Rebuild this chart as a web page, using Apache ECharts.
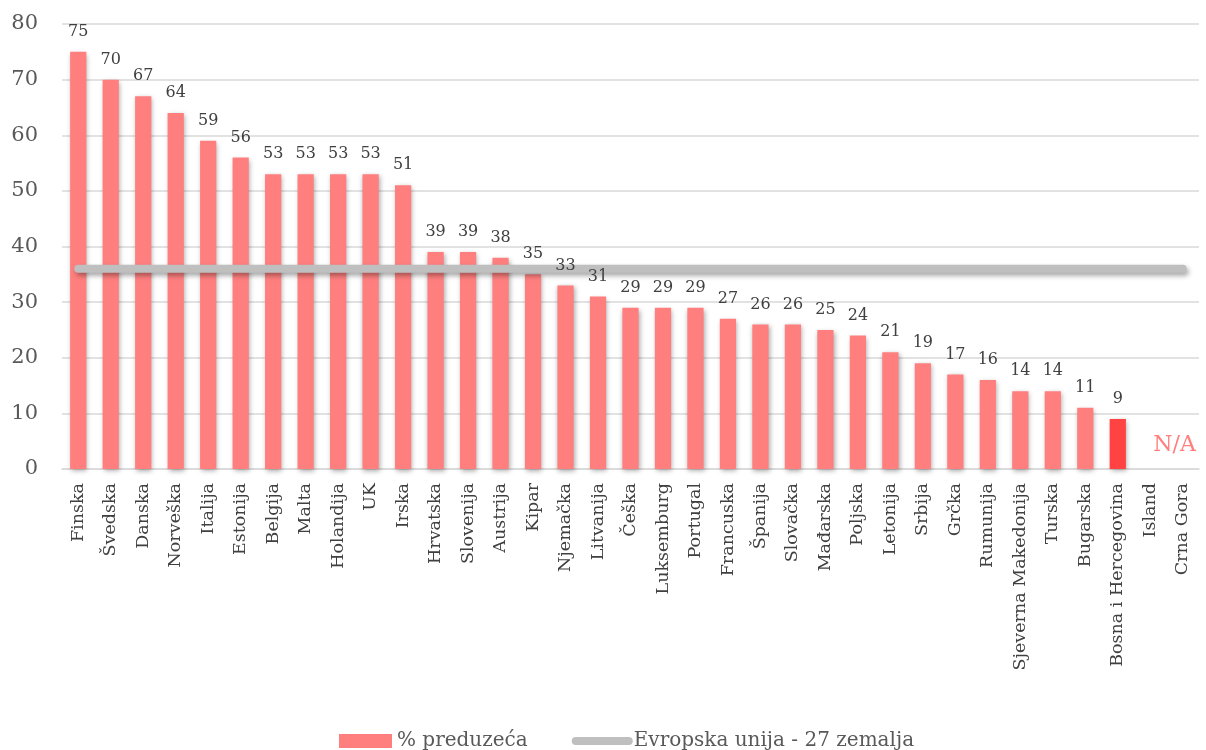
<!DOCTYPE html>
<html>
<head>
<meta charset="utf-8">
<script src="https://cdn.jsdelivr.net/npm/echarts@6/dist/echarts.min.js"></script>
<style>
  html, body { margin: 0; padding: 0; background: #fff; }
  #chart { width: 1206px; height: 750px; }
</style>
</head>
<body>
<div id="chart"></div>
<script>
// Countries (x axis)
const countries = ['Finska', 'Švedska', 'Danska', 'Norveška', 'Italija', 'Estonija', 'Belgija', 'Malta',
  'Holandija', 'UK', 'Irska', 'Hrvatska', 'Slovenija', 'Austrija', 'Kipar', 'Njemačka', 'Litvanija',
  'Češka', 'Luksemburg', 'Portugal', 'Francuska', 'Španija', 'Slovačka', 'Mađarska', 'Poljska',
  'Letonija', 'Srbija', 'Grčka', 'Rumunija', 'Sjeverna Makedonija', 'Turska', 'Bugarska',
  'Bosna i Hercegovina', 'Island', 'Crna Gora'];
// % of enterprises (null = no data)
const shares = [75, 70, 67, 64, 59, 56, 53, 53, 53, 53, 51, 39, 39, 38, 35, 33, 31, 29, 29, 29, 27,
  26, 26, 25, 24, 21, 19, 17, 16, 14, 14, 11, 9, null, null];
// EU-27 average
const euAverage = 36;
const highlighted = 'Bosna i Hercegovina';
const yTicks = [0, 10, 20, 30, 40, 50, 60, 70, 80];

const FONT = '"DejaVu Serif", serif';
const chart = echarts.init(document.getElementById('chart'));

const barData = shares.map((v, i) => ({
  value: v,
  itemStyle: { color: countries[i] === highlighted ? '#FF4343' : '#FF7F7F' }
}));

chart.setOption({
  animation: false,
  textStyle: { fontFamily: FONT },
  grid: { left: 62, right: 7, top: 24, bottom: 281, containLabel: false },
  legend: {
    top: 726,
    left: 334,
    itemGap: 44,
    itemWidth: 53,
    itemHeight: 14,
    textStyle: { fontFamily: FONT, fontSize: 20, color: '#595959' },
    data: [
      { name: '% preduzeća', icon: 'rect' },
      {
        name: 'Evropska unija - 27 zemalja',
        itemStyle: { color: 'rgba(0,0,0,0)', borderWidth: 0, opacity: 0 },
        lineStyle: { width: 8, cap: 'round', color: '#BFBFBF', shadowBlur: 0, shadowOffsetX: 0, shadowOffsetY: 0 }
      }
    ]
  },
  xAxis: {
    type: 'category',
    data: countries,
    axisTick: { show: false },
    axisLine: { show: true, lineStyle: { color: '#d9d9d9', width: 1.5 } },
    axisLabel: {
      rotate: 90,
      interval: 0,
      margin: 14,
      fontSize: 17.5,
      fontFamily: FONT,
      color: '#404040'
    }
  },
  yAxis: {
    type: 'value',
    min: 0,
    max: 80,
    interval: 10,
    axisLine: { show: false },
    axisTick: { show: false },
    splitLine: { lineStyle: { color: '#d9d9d9', width: 1.5 } },
    axisLabel: {
      fontSize: 21,
      fontFamily: FONT,
      color: '#595959',
      margin: 24,
      formatter: v => yTicks.includes(v) ? String(v) : ''
    }
  },
  series: [
    {
      name: '% preduzeća',
      type: 'bar',
      data: barData,
      barWidth: '50%',
      itemStyle: {
        color: '#FF7F7F',
        shadowBlur: 5,
        shadowOffsetX: 1,
        shadowOffsetY: 2,
        shadowColor: 'rgba(0,0,0,0.35)'
      },
      z: 2
    },
    {
      name: 'Evropska unija - 27 zemalja',
      type: 'line',
      data: countries.map(() => euAverage),
      symbol: 'none',
      lineStyle: {
        color: '#BFBFBF',
        width: 8,
        cap: 'round',
        shadowBlur: 5,
        shadowOffsetX: 2,
        shadowOffsetY: 3,
        shadowColor: 'rgba(0,0,0,0.35)'
      },
      itemStyle: { color: '#BFBFBF' },
      z: 3
    },
    {
      // value labels drawn above the average line
      name: 'labels',
      type: 'bar',
      data: shares,
      barWidth: '50%',
      barGap: '-100%',
      silent: true,
      itemStyle: { color: 'rgba(0,0,0,0)' },
      label: {
        show: true,
        position: 'top',
        distance: 12,
        fontSize: 16,
        fontFamily: FONT,
        color: '#404040'
      },
      z: 4
    }
  ]
});

// "N/A" note for countries without data, placed beside the last two categories
const p1 = chart.convertToPixel({ seriesIndex: 0 }, ['Island', 4.3]);
const p2 = chart.convertToPixel({ seriesIndex: 0 }, ['Crna Gora', 4.3]);
chart.setOption({
  graphic: [{
    type: 'text',
    x: p1[0] + (p2[0] - p1[0]) * 0.75,
    y: p1[1],
    style: {
      text: 'N/A',
      fontFamily: FONT,
      fontSize: 22,
      fill: '#FF7F7F',
      align: 'center',
      verticalAlign: 'middle'
    }
  }]
});
</script>
</body>
</html>
